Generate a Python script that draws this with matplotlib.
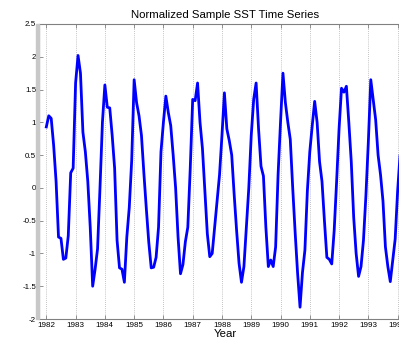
import numpy as np
import matplotlib
matplotlib.use("Agg")
import matplotlib.pyplot as plt
from matplotlib.ticker import MultipleLocator

# monthly normalized SST anomaly, starting Jan 1982
sst = [
    0.93, 1.10, 1.06, 0.65, 0.10, -0.75, -0.77, -1.09, -1.07, -0.73, 0.23, 0.30,      # 1982
    1.60, 2.02, 1.75, 0.85, 0.55, 0.10, -0.60, -1.50, -1.24, -0.93, 0.00, 1.00,       # 1983
    1.57, 1.23, 1.22, 0.80, 0.30, -0.80, -1.22, -1.24, -1.44, -0.75, -0.30, 0.42,     # 1984
    1.65, 1.30, 1.10, 0.80, 0.22, -0.32, -0.83, -1.22, -1.21, -1.06, -0.60, 0.55,     # 1985
    1.00, 1.40, 1.15, 0.95, 0.50, 0.00, -0.75, -1.31, -1.17, -0.82, -0.60, 0.30,      # 1986
    1.35, 1.33, 1.60, 1.00, 0.60, -0.05, -0.70, -1.05, -1.00, -0.60, -0.20, 0.20,     # 1987
    0.80, 1.45, 0.90, 0.72, 0.50, -0.10, -0.65, -1.15, -1.44, -1.20, -0.60, 0.00,     # 1988
    0.80, 1.35, 1.60, 0.90, 0.33, 0.18, -0.60, -1.20, -1.10, -1.20, -0.90, 0.20,      # 1989
    1.00, 1.75, 1.30, 1.00, 0.74, 0.00, -0.68, -1.30, -1.82, -1.29, -0.95, -0.05,     # 1990
    0.55, 0.95, 1.32, 1.00, 0.40, 0.10, -0.50, -1.06, -1.09, -1.16, -0.65, 0.10,      # 1991
    0.90, 1.52, 1.46, 1.55, 1.00, 0.40, -0.45, -1.00, -1.35, -1.20, -0.80, -0.12,     # 1992
    0.70, 1.65, 1.35, 1.04, 0.50, 0.20, -0.20, -0.90, -1.20, -1.43, -1.10, -0.78,     # 1993
    -0.05, 0.50,                                                                      # 1994
]
start_year = 1982
years = list(range(1982, 1995))
yticks = [-2, -1.5, -1, -0.5, 0, 0.5, 1, 1.5, 2, 2.5]

t = start_year + np.arange(len(sst)) / 12.0

plt.rcParams['font.family'] = ['Liberation Sans', 'DejaVu Sans']
fig = plt.figure(figsize=(3.99, 3.43), dpi=100)
W, H = 399, 343
left, right, top, bottom = 39, 411, 24, 319
ax = fig.add_axes([left / W, 1 - bottom / H, (right - left) / W, (bottom - top) / H])

# grey strip to the left of the axes box
fig.patches.append(plt.Rectangle((36 / W, 1 - bottom / H), 3 / W, (bottom - top) / H,
                                 transform=fig.transFigure, color='#c8c8c8', zorder=0))

ax.plot(t, sst, color='#0000ff', linewidth=2.0)

ax.set_xlim(start_year - 0.25, start_year + (right - 46) / 29.3)
ax.set_ylim(-2, 2.5)
ax.set_xticks(years)
ax.set_xticklabels([str(y) for y in years])
ax.set_yticks(yticks)
ax.set_yticklabels([f"{v:g}" for v in yticks])
ax.xaxis.grid(True, linestyle=(0, (1, 1.5)), color='#b0b0b0', linewidth=0.6)

for s in ax.spines.values():
    s.set_color('#808080')
    s.set_linewidth(0.8)
ax.tick_params(direction='in', length=3, width=0.6, color='#808080',
               labelsize=5.8, top=True, right=True, pad=2)

ax.set_title("Normalized Sample SST Time Series", fontsize=8.2, pad=4)
ax.set_xlabel("Year", fontsize=8.2, labelpad=0)

fig.savefig("out.png", dpi=100)
